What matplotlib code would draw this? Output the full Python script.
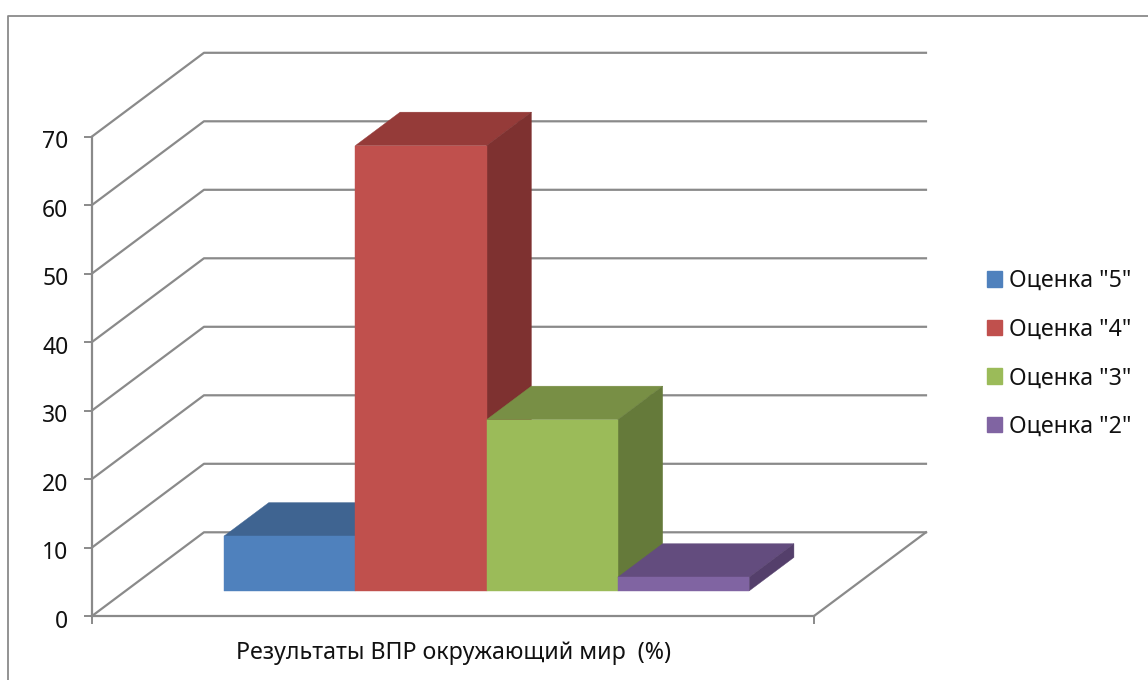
import matplotlib
matplotlib.use("Agg")
import matplotlib.pyplot as plt
from matplotlib.lines import Line2D
from matplotlib.patches import Patch, Polygon
from matplotlib.transforms import ScaledTranslation

series = ['Оценка "5"', 'Оценка "4"', 'Оценка "3"', 'Оценка "2"']
values = [8, 65, 25, 2]
front_colors = ["#4F81BD", "#C0504D", "#9BBB59", "#8064A2"]
top_colors = ["#3F6491", "#953B39", "#788F45", "#634C7E"]
side_colors = ["#355478", "#7E3130", "#657A3A", "#543F6B"]
y_ticks = [0, 10, 20, 30, 40, 50, 60, 70]
category = "Результаты ВПР окружающий мир  (%)"

W, H = 1148, 680
GREY = "#8A8A8A"
TEXT = "#111111"

plt.rcParams["font.family"] = ["Noto Sans", "DejaVu Sans"]

# oblique depth: how far the back wall is shifted, in data units
DEPTH_X = 0.853
DEPTH_Y = 12.22
GAP = 0.75
BAR_NEAR = 0.3
BAR_FAR = 0.7


def project(x, y, d):
    return x + d * DEPTH_X, y + d * DEPTH_Y


def draw_walls(ax, x_max):
    for tick in y_ticks:
        xs, ys = zip(project(0, tick, 0), project(0, tick, 1), project(x_max, tick, 1))
        ax.plot(xs, ys, color=GREY, lw=1.6, clip_on=False, zorder=1)
    xs, ys = zip(project(x_max, 0, 1), project(x_max, 0, 0))
    ax.plot(xs, ys, color=GREY, lw=1.6, clip_on=False, zorder=1)


def draw_bar(ax, left, value, front, top, side, order):
    right = left + 1
    front_pts = [project(left, 0, BAR_NEAR), project(right, 0, BAR_NEAR),
                 project(right, value, BAR_NEAR), project(left, value, BAR_NEAR)]
    top_pts = [project(left, value, BAR_NEAR), project(right, value, BAR_NEAR),
               project(right, value, BAR_FAR), project(left, value, BAR_FAR)]
    side_pts = [project(right, 0, BAR_NEAR), project(right, 0, BAR_FAR),
                project(right, value, BAR_FAR), project(right, value, BAR_NEAR)]
    for pts, color in [(top_pts, top), (side_pts, side), (front_pts, front)]:
        ax.add_patch(Polygon(pts, closed=True, facecolor=color, edgecolor=color,
                             lw=0.3, clip_on=False, zorder=3 + order))


fig = plt.figure(figsize=(W / 100, H / 100), dpi=100)
ax = fig.add_axes([92 / W, 1 - 616 / H, 722 / W, 479.5 / H])

x_max = GAP * 2 + len(values)
ax.set_xlim(0, x_max)
ax.set_ylim(0, 70)

draw_walls(ax, x_max)
for i, value in enumerate(values):
    draw_bar(ax, GAP + i, value, front_colors[i], top_colors[i], side_colors[i], i)

ax.patch.set_visible(False)
for name in ["top", "right"]:
    ax.spines[name].set_visible(False)
for name in ["left", "bottom"]:
    ax.spines[name].set_color(GREY)
    ax.spines[name].set_linewidth(1.6)
    ax.spines[name].set_zorder(2)

ax.set_yticks(y_ticks)
ax.set_xticks([0, x_max])
ax.set_xticklabels(["", ""])
ax.tick_params(axis="both", length=6, width=1.4, color=GREY, labelcolor=TEXT, labelsize=16.5)
ax.tick_params(axis="y", pad=11)
# tick labels sit a little below their ticks in the original
nudge = ScaledTranslation(0, -2 / 72, fig.dpi_scale_trans)
for lab in ax.get_yticklabels():
    lab.set_transform(lab.get_transform() + nudge)
ax.set_xlabel(category, fontsize=16.7, color=TEXT, labelpad=8.5)

handles = [Patch(facecolor=c, edgecolor=c, label=s) for c, s in zip(front_colors, series)]
fig.legend(handles=handles, loc="center left", bbox_to_anchor=(980 / W, 1 - 354 / H),
           frameon=False, fontsize=16.7, labelcolor=TEXT, handlelength=0.65,
           handleheight=0.65, handletextpad=0.3, labelspacing=1.06, borderpad=0.3, borderaxespad=0)

# chart frame, only left and top edges are inside the picture
fig.add_artist(Line2D([8 / W, 8 / W, 1], [0, 1 - 15.5 / H, 1 - 15.5 / H], color=GREY, lw=1.3))

fig.savefig("out.png", dpi=100)
